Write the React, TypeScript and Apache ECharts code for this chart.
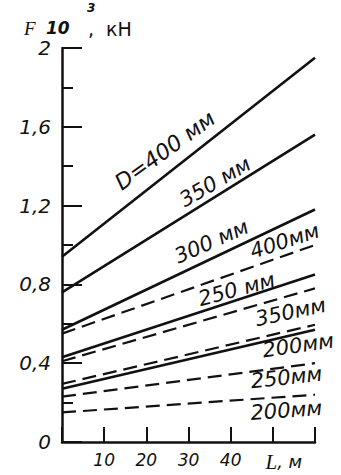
import React, { useEffect, useRef } from "react";
import * as echarts from "echarts";

// Length L, m (line end points)
const lengths = [0, 60];

// Solid lines, F·10^3 kN
const solidD400 = [0.94, 1.95];
const solidD350 = [0.76, 1.56];
const solidD300 = [0.57, 1.18];
const solidD250 = [0.43, 0.85];
const solidD200 = [0.27, 0.57];

// Dashed lines, F·10^3 kN
const dashedD400 = [0.55, 1.0];
const dashedD350 = [0.41, 0.78];
const dashedD300 = [0.295, 0.595];
const dashedD250 = [0.23, 0.4];
const dashedD200 = [0.15, 0.24];

// Axis tick labels
const xTickLabels: Record<number, string> = { 10: "10", 20: "20", 30: "30", 40: "40", 50: "{l|L}{m|, м}" };
const yTickLabels: Record<string, string> = { "0": "0", "0.4": "0,4", "0.8": "0,8", "1.2": "1,2", "1.6": "1,6", "2": "2" };

// Curve labels (text, anchor L, anchor F, angle)
const labelTexts = ["D=400 мм", "350 мм", "300 мм", "400мм", "250 мм", "350мм", "200мм", "250мм", "200мм"];
const labelL = [24.4, 36.3, 35.4, 52.8, 41.4, 54.2, 56.0, 53.2, 53.2];
const labelF = [1.48, 1.32, 1.02, 1.02, 0.775, 0.66, 0.49, 0.33, 0.16];
const labelAngle = [36, 30, 24, 18, 15, 12, 8, 6, 4];

const INK = "#111111";
const FONT = "DejaVu Sans";

export default function App() {
  const ref = useRef<HTMLDivElement>(null);

  useEffect(() => {
    if (!ref.current) return;
    const chart = echarts.init(ref.current, null, { renderer: "svg" });

    const mkLine = (name: string, values: number[], dashed: boolean) => ({
      name,
      type: "line",
      data: lengths.map((l, i) => [l, values[i]]),
      showSymbol: false,
      symbol: "none",
      lineStyle: {
        color: INK,
        width: dashed ? 2.2 : 2.6,
        type: dashed ? [14, 7] : "solid",
      },
      z: 3,
    });

    const labelData = labelTexts.map((t, i) => ({
      value: [labelL[i], labelF[i]],
      label: {
        show: true,
        position: "inside",
        formatter: t,
        rotate: labelAngle[i],
        color: INK,
        opacity: 1,
        fontFamily: FONT,
        fontStyle: "italic",
        fontSize: i === 0 ? 22 : 21,
      },
    }));

    chart.setOption({
      animation: false,
      backgroundColor: "#ffffff",
      grid: { left: 62, right: 26, top: 48, bottom: 33, containLabel: false },
      graphic: [
        { type: "text", left: 24, top: 19, style: { text: "F", font: "italic 19px 'Liberation Serif'", fill: INK } },
        { type: "text", left: 46, top: 19, style: { text: "10", font: "italic bold 17px 'DejaVu Sans'", fill: INK } },
        { type: "text", left: 87, top: 2, style: { text: "3", font: "italic bold 12px 'DejaVu Sans'", fill: INK } },
        { type: "text", left: 88, top: 19, style: { text: ",  кН", font: "19px 'DejaVu Sans'", fill: INK } },
      ],
      xAxis: {
        type: "value",
        min: 0,
        max: 60,
        interval: 10,
        axisLine: { show: true, onZero: false, lineStyle: { color: INK, width: 2.5 } },
        axisTick: { show: true, inside: true, length: 15, lineStyle: { color: INK, width: 2 } },
        splitLine: { show: false },
        axisLabel: {
          margin: 9,
          color: INK,
          fontFamily: FONT,
          fontStyle: "italic",
          fontSize: 17,
          formatter: (v: number) => xTickLabels[Math.round(v)] ?? "",
          rich: {
            l: { fontFamily: "Liberation Serif", fontStyle: "italic", fontSize: 21, color: INK, padding: [0, 0, 0, 22] },
            m: { fontFamily: FONT, fontSize: 18, color: INK },
          },
        },
      },
      yAxis: {
        type: "value",
        min: 0,
        max: 2,
        interval: 0.4,
        axisLine: { show: true, onZero: false, lineStyle: { color: INK, width: 2.5 } },
        axisTick: { show: true, inside: true, length: 20, lineStyle: { color: INK, width: 2 } },
        minorTick: { show: true, splitNumber: 2, length: 11, lineStyle: { color: INK, width: 2 } },
        splitLine: { show: false },
        minorSplitLine: { show: false },
        axisLabel: {
          margin: 11,
          color: INK,
          fontFamily: FONT,
          fontStyle: "italic",
          fontSize: 20,
          formatter: (v: number) => yTickLabels[String(Math.round(v * 10) / 10)] ?? "",
        },
      },
      series: [
        mkLine("D400", solidD400, false),
        mkLine("D350", solidD350, false),
        mkLine("D300", solidD300, false),
        mkLine("D250", solidD250, false),
        mkLine("D200", solidD200, false),
        mkLine("D400d", dashedD400, true),
        mkLine("D350d", dashedD350, true),
        mkLine("D300d", dashedD300, true),
        mkLine("D250d", dashedD250, true),
        mkLine("D200d", dashedD200, true),
        {
          name: "labels",
          type: "scatter",
          symbolSize: 0,
          itemStyle: { opacity: 1, color: INK },
          data: labelData,
          z: 4,
        },
      ],
    });

    return () => chart.dispose();
  }, []);

  return (
    <div
      ref={ref}
      style={{ position: "fixed", left: 0, top: 0, width: 341, height: 475, background: "#fff" }}
    />
  );
}
